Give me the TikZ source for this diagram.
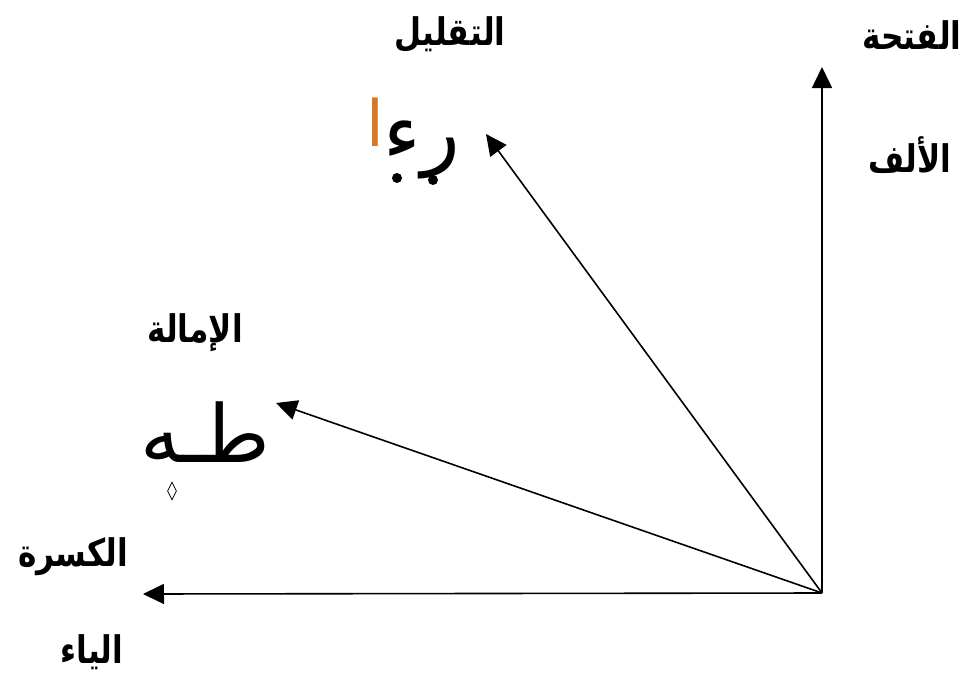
\documentclass[tikz,border=0pt]{standalone}
\usepackage{fontspec}
\newfontfamily\arabicfont[Script=Arabic]{DejaVu Sans}
\TeXXeTstate=1
\usetikzlibrary{arrows.meta,shapes.geometric}
\definecolor{alifor}{RGB}{214,120,40}
\begin{document}
\begin{tikzpicture}[x=1pt,y=-1pt,
  lbl/.style={font=\arabicfont\bfseries\fontsize{38}{44}\selectfont, inner sep=0pt},
  callig/.style={font=\arabicfont\fontsize{80}{90}\selectfont, inner sep=0pt},
  arr/.style={line width=1.6pt, -{Triangle[length=21pt,width=20pt]}}]
\useasboundingbox (0,0) rectangle (968,677);
\coordinate (o) at (822,593);
\coordinate (up) at (822,67);
\coordinate (lf) at (143,594);
\coordinate (im) at (276,403);
\coordinate (tq) at (486,134);
\draw[arr] (o) -- (up);
\draw[arr] (o) -- (lf);
\draw[arr] (o) -- (im);
\draw[arr] (o) -- (tq);
\node[lbl] (fatha) at (912,35) {\scalebox{0.82}[1]{\beginR الفتحة\endR}};
\node[lbl] (alif) at (910,155) {\scalebox{0.82}[1]{\beginR الألف\endR}};
\node[lbl] (taqlil) at (450,35) {\scalebox{0.82}[1]{\beginR التقليل\endR}};
\node[lbl] (imala) at (195,333) {\scalebox{0.82}[1]{\beginR الإمالة\endR}};
\node[lbl] (kasra) at (73,557) {\scalebox{0.82}[1]{\beginR الكسرة\endR}};
\node[lbl] (ya) at (92,652) {\scalebox{0.82}[1]{\beginR الياء\endR}};
\node[callig] (raa) at (422,150) {\beginR رء\endR};
\node[callig, text=alifor, font=\arabicfont\fontsize{64}{70}\selectfont] (alf) at (375,122) {\beginR ا\endR};
\fill (397,178) circle (5);
\fill (433,180) circle (5);
\node[callig] (taha) at (205,432) {\beginR طـه\endR};
\node[draw, diamond, line width=0.8pt, minimum width=9pt, minimum height=18pt, inner sep=0pt, aspect=0.5] (dm) at (172,491) {};
\end{tikzpicture}
\end{document}
